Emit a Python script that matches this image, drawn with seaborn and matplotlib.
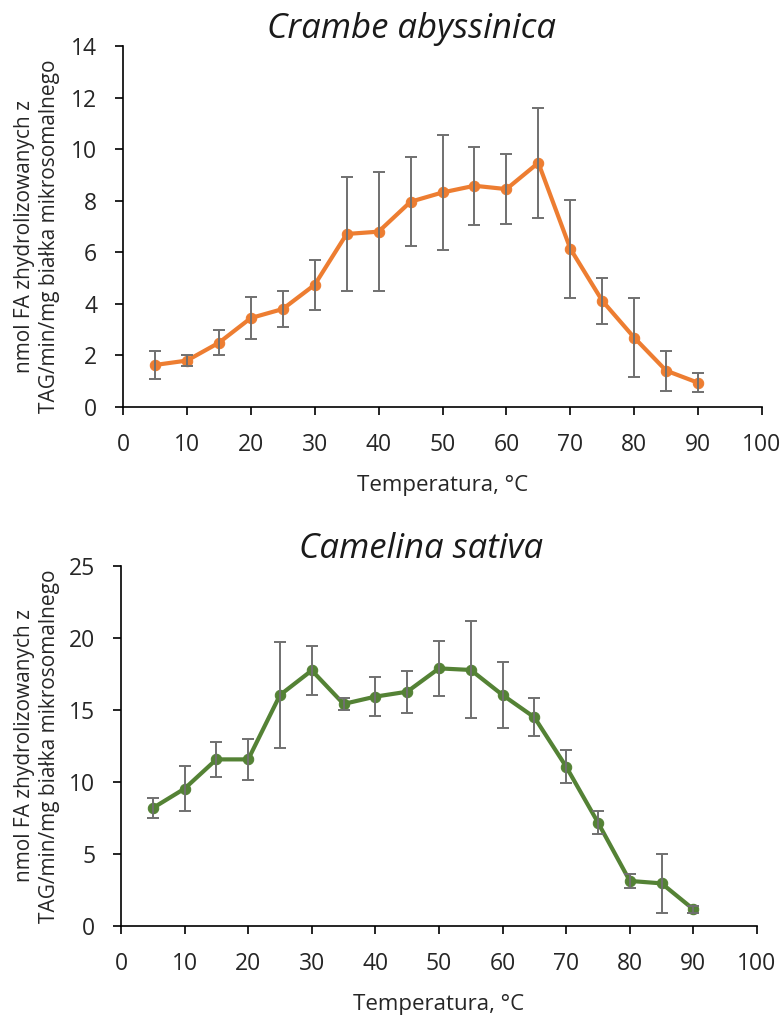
import numpy as np
import pandas as pd
import matplotlib
matplotlib.use("Agg")
import matplotlib.pyplot as plt
import seaborn as sns

temps = [5, 10, 15, 20, 25, 30, 35, 40, 45, 50, 55, 60, 65, 70, 75, 80, 85, 90]
crambe_mean = [1.63, 1.80, 2.49, 3.45, 3.80, 4.74, 6.71, 6.80, 7.96, 8.32, 8.58, 8.45, 9.47, 6.14, 4.12, 2.69, 1.41, 0.94]
crambe_sd = [0.55, 0.20, 0.48, 0.80, 0.68, 0.97, 2.20, 2.30, 1.72, 2.23, 1.52, 1.35, 2.13, 1.90, 0.90, 1.52, 0.78, 0.37]
camelina_mean = [8.19, 9.54, 11.57, 11.57, 16.04, 17.75, 15.42, 15.93, 16.27, 17.89, 17.78, 16.04, 14.49, 11.06, 7.18, 3.13, 2.96, 1.16]
camelina_sd = [0.72, 1.56, 1.20, 1.45, 3.65, 1.70, 0.44, 1.37, 1.47, 1.93, 3.37, 2.30, 1.33, 1.15, 0.78, 0.46, 2.03, 0.25]
xticks = [0, 10, 20, 30, 40, 50, 60, 70, 80, 90, 100]
titles = ["Crambe abyssinica", "Camelina sativa"]
xlabel = "Temperatura, °C"
ylabel = "nmol FA zhydrolizowanych z\nTAG/min/mg białka mikrosomalnego"

sns.set_style("ticks")
plt.rcParams['font.family'] = ['Open Sans', 'DejaVu Sans']

fig = plt.figure(figsize=(7.83, 10.15), dpi=100)
# axes boxes in figure fractions
ax1 = fig.add_axes([123 / 783, 1 - 407 / 1015, 639 / 783, 361 / 1015])
ax2 = fig.add_axes([121 / 783, 1 - 926 / 1015, 636 / 783, 360 / 1015])

configs = [
    (ax1, crambe_mean, crambe_sd, "#ED7D31", (0, 14), [0, 2, 4, 6, 8, 10, 12, 14], titles[0],
     0.451, -2, (-0.0986, 0.472)),
    (ax2, camelina_mean, camelina_sd, "#548235", (0, 25), [0, 5, 10, 15, 20, 25], titles[1],
     0.472, 4, (-0.0959, 0.5)),
]

for ax, mean, sd, color, ylim, yticks, title, tx, tpad, ylc in configs:
    df = pd.DataFrame({"T": temps, "v": mean})
    sns.lineplot(data=df, x="T", y="v", ax=ax, color=color, linewidth=3.0,
                 marker="o", markersize=7.5, markeredgecolor=color, zorder=2)
    ax.errorbar(temps, mean, yerr=sd, fmt="none", ecolor="#707070",
                elinewidth=1.4, capsize=4.2, capthick=1.4, zorder=3)
    ax.set_xlim(0, 100)
    ax.set_ylim(*ylim)
    ax.set_xticks(xticks)
    ax.set_yticks(yticks)
    ax.tick_params(axis="both", labelsize=16.5, length=6, width=1.2, color="black",
                   pad=12.5, labelcolor="#262626")
    for s in ["top", "right"]:
        ax.spines[s].set_visible(False)
    for s in ["left", "bottom"]:
        ax.spines[s].set_linewidth(1.2)
        ax.spines[s].set_color("black")
    ax.set_xlabel(xlabel, fontsize=16, labelpad=13, color="#262626")
    ax.set_ylabel(ylabel, fontsize=15, linespacing=1.25, color="#262626")
    ax.yaxis.set_label_coords(*ylc)
    t = ax.set_title(title, fontsize=25, style="italic", pad=tpad, color="#1a1a1a")
    t.set_x(tx)

fig.savefig("out.png", dpi=100)
